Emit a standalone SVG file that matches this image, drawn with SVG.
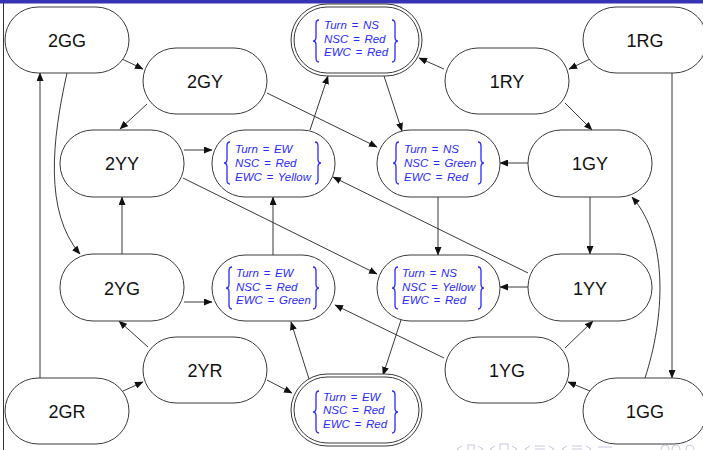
<svg xmlns="http://www.w3.org/2000/svg" xmlns:xlink="http://www.w3.org/1999/xlink" width="703" height="450" viewBox="0 0 703 450">
<style>
.n{fill:#fff;stroke:#3a3a3a;stroke-width:1}
.lbl{font-family:"Liberation Sans",Arial,sans-serif;font-size:18px;fill:#111;text-anchor:middle}
.v{font-family:"Liberation Sans",Arial,sans-serif;font-size:11.5px;font-style:italic;fill:#2a2aff;word-spacing:1.5px}
.br{fill:none;stroke:#2a2aff;stroke-width:1.3}
.e{fill:none;stroke:#222;stroke-width:0.9;marker-end:url(#ah)}
.nav{fill:none;stroke:#c9c9e2;stroke-width:1}
</style>
<defs>
<marker id="ah" markerWidth="9" markerHeight="7" refX="8" refY="3.5" orient="auto" markerUnits="userSpaceOnUse">
<path d="M0,0 L8.5,3.5 L0,7 Z" fill="#111"/>
</marker>
<path id="lb" class="br" d="M5,-21 Q2,-21 2,-17 L2,-4 Q2,0 -1,0 Q2,0 2,4 L2,17 Q2,21 5,21"/>
<path id="rb" class="br" d="M-5,-21 Q-2,-21 -2,-17 L-2,-4 Q-2,0 1,0 Q-2,0 -2,4 L-2,17 Q-2,21 -5,21"/>
</defs>
<rect width="703" height="450" fill="#fff"/>
<rect x="0" y="0" width="703" height="3.5" fill="#3333b3"/>
<line x1="3.5" y1="3" x2="3.5" y2="450" stroke="#333" stroke-width="1"/>

<g id="connectors">
<path class="e" d="M122,59 L143,69"/>
<path class="e" d="M147,104 L120,129"/>
<path class="e" d="M67,73 C52,140 44,212 80,254"/>
<path class="e" d="M40,378 L40,73"/>
<path class="e" d="M123,391 L143,382"/>
<path class="e" d="M148,347 L119,321"/>
<path class="e" d="M122,254 L122,197"/>
<path class="e" d="M184,150 L212,150"/>
<path class="e" d="M184,302 L212,302"/>
<path class="e" d="M183,178 L377,274"/>
<path class="e" d="M267,93 L377,147"/>
<path class="e" d="M310,130 L328,76"/>
<path class="e" d="M384,76 L402,131"/>
<path class="e" d="M444,69 L419,58"/>
<path class="e" d="M590,59 L569,69"/>
<path class="e" d="M565,103 L592,130"/>
<path class="e" d="M672,73 L672,378"/>
<path class="e" d="M645,378 C664,320 670,240 632,197"/>
<path class="e" d="M528,163 L500,163"/>
<path class="e" d="M590,197 L590,254"/>
<path class="e" d="M528,287 L500,287"/>
<path class="e" d="M528,273 L333,177"/>
<path class="e" d="M444,358 L335,305"/>
<path class="e" d="M565,348 L593,321"/>
<path class="e" d="M590,391 L568,382"/>
<path class="e" d="M438,197 L438,255"/>
<path class="e" d="M401,320 L383,375"/>
<path class="e" d="M309,379 L291,322"/>
<path class="e" d="M267,380 L292,393"/>
<path class="e" d="M273,255 L273,197"/>
</g>

<g id="n2GG"><rect class="n" x="5" y="7" width="124" height="66" rx="33"/><text class="lbl" x="67" y="47">2GG</text></g>
<g id="n2GY"><rect class="n" x="143" y="48" width="124" height="66" rx="33"/><text class="lbl" x="205" y="88">2GY</text></g>
<g id="n1RG"><rect class="n" x="583" y="7" width="124" height="66" rx="33"/><text class="lbl" x="645" y="47">1RG</text></g>
<g id="n1RY"><rect class="n" x="445" y="48" width="124" height="66" rx="33"/><text class="lbl" x="507" y="88">1RY</text></g>
<g id="n2YY"><rect class="n" x="60" y="130" width="124" height="67" rx="33"/><text class="lbl" x="122" y="170">2YY</text></g>
<g id="n2YG"><rect class="n" x="60" y="254" width="124" height="67" rx="33"/><text class="lbl" x="122" y="295">2YG</text></g>
<g id="n1GY"><rect class="n" x="528" y="130" width="124" height="67" rx="33"/><text class="lbl" x="590" y="170">1GY</text></g>
<g id="n1YY"><rect class="n" x="528" y="254" width="124" height="67" rx="33"/><text class="lbl" x="590" y="295">1YY</text></g>
<g id="n2YR"><rect class="n" x="143" y="337" width="124" height="66" rx="33"/><text class="lbl" x="205" y="377">2YR</text></g>
<g id="n1YG"><rect class="n" x="445" y="337" width="124" height="66" rx="33"/><text class="lbl" x="507" y="377">1YG</text></g>
<g id="n2GR"><rect class="n" x="5" y="378" width="124" height="66" rx="33"/><text class="lbl" x="67" y="418">2GR</text></g>
<g id="n1GG"><rect class="n" x="583" y="378" width="124" height="66" rx="33"/><text class="lbl" x="645" y="418">1GG</text></g>

<g id="sNSRR">
<rect class="n" x="291" y="4" width="131" height="72" rx="36"/>
<rect class="n" x="294" y="7" width="125" height="66" rx="33"/>
<use xlink:href="#lb" x="314" y="41"/><use xlink:href="#rb" x="397" y="41"/>
<text class="v" x="324" y="29">Turn = NS</text>
<text class="v" x="324" y="43">NSC = Red</text>
<text class="v" x="324" y="56">EWC = Red</text>
</g>
<g id="sEWRY">
<rect class="n" x="212" y="130" width="123" height="67" rx="33"/>
<use xlink:href="#lb" x="225" y="163"/><use xlink:href="#rb" x="320" y="163"/>
<text class="v" x="235" y="153">Turn = EW</text>
<text class="v" x="235" y="167">NSC = Red</text>
<text class="v" x="235" y="181">EWC = Yellow</text>
</g>
<g id="sNSGR">
<rect class="n" x="377" y="130" width="123" height="67" rx="33"/>
<use xlink:href="#lb" x="394" y="163"/><use xlink:href="#rb" x="483" y="163"/>
<text class="v" x="404" y="153">Turn = NS</text>
<text class="v" x="404" y="167">NSC = Green</text>
<text class="v" x="404" y="181">EWC = Red</text>
</g>
<g id="sEWRG">
<rect class="n" x="212" y="255" width="123" height="66" rx="33"/>
<use xlink:href="#lb" x="227" y="288"/><use xlink:href="#rb" x="318" y="288"/>
<text class="v" x="236" y="277">Turn = EW</text>
<text class="v" x="236" y="291">NSC = Red</text>
<text class="v" x="236" y="304">EWC = Green</text>
</g>
<g id="sNSYR">
<rect class="n" x="377" y="255" width="123" height="66" rx="33"/>
<use xlink:href="#lb" x="393" y="288"/><use xlink:href="#rb" x="483" y="288"/>
<text class="v" x="402" y="277">Turn = NS</text>
<text class="v" x="402" y="291">NSC = Yellow</text>
<text class="v" x="402" y="304">EWC = Red</text>
</g>
<g id="sEWRR">
<rect class="n" x="291" y="374" width="131" height="72" rx="36"/>
<rect class="n" x="294" y="377" width="125" height="66" rx="33"/>
<use xlink:href="#lb" x="314" y="412"/><use xlink:href="#rb" x="397" y="412"/>
<text class="v" x="323" y="401">Turn = EW</text>
<text class="v" x="323" y="414">NSC = Red</text>
<text class="v" x="323" y="428">EWC = Red</text>
</g>

<g id="nav">
<path class="nav" d="M462,446 L457,449 L462,452"/>
<rect class="nav" x="468" y="445" width="6" height="6"/>
<path class="nav" d="M478,446 L483,449 L478,452"/>
<path class="nav" d="M495,446 L490,449 L495,452"/>
<rect class="nav" x="500" y="444" width="8" height="7"/>
<path class="nav" d="M512,446 L517,449 L512,452"/>
<path class="nav" d="M530,446 L525,449 L530,452"/>
<path class="nav" d="M535,446 L545,446 M535,449 L545,449"/>
<path class="nav" d="M549,446 L554,449 L549,452"/>
<path class="nav" d="M567,446 L562,449 L567,452"/>
<path class="nav" d="M572,446 L582,446 M572,449 L582,449"/>
<path class="nav" d="M586,446 L591,449 L586,452"/>
<path class="nav" d="M598,447 L612,447"/>
<circle class="nav" cx="665" cy="449" r="4"/>
<circle class="nav" cx="676" cy="449" r="4"/>
<circle class="nav" cx="690" cy="449" r="4"/>
</g>
</svg>
